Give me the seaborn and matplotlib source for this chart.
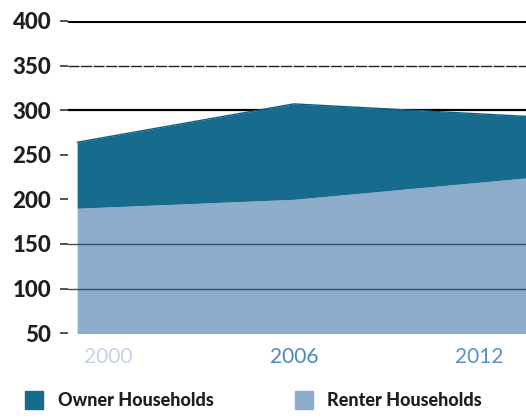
import matplotlib
matplotlib.use("Agg")
import matplotlib.pyplot as plt
import seaborn as sns
from matplotlib.lines import Line2D

# data (stacked: owners sit on top of renters)
years = [1999, 2006, 2013.5]
renter = [190, 200, 224]
owner = [74, 107, 69]
tick_years = [2000, 2006, 2012]
tick_labels = ["2000", "2006", "2012"]
y_ticks = [50, 100, 150, 200, 250, 300, 350, 400]
series_names = ["Owner Households", "Renter Households"]

owner_color = "#176b8c"
renter_color = "#8eaccb"

sns.set_theme(style="white")
plt.rcParams['font.family'] = ['Lato', 'DejaVu Sans']

fig = plt.figure(figsize=(5.26, 4.19), dpi=100)
ax = fig.add_axes([0.129, 0.205, 0.871, 0.745])

total = [r + o for r, o in zip(renter, owner)]
ax.fill_between(years, 0, renter, color=renter_color, lw=0, zorder=2)
ax.fill_between(years, renter, total, color=owner_color, lw=0, zorder=2)
sns.lineplot(x=years, y=total, color="#0f5f80", lw=1, ax=ax, zorder=3)

# grid lines as printed
ax.axhline(400, color="black", lw=2.2, zorder=1)
ax.axhline(350, color="#222222", lw=1, ls=(0, (8, 1)), zorder=1)
ax.axhline(300, color="black", lw=1.6, zorder=1)
ax.axhline(150, color="#2f4f66", lw=1, zorder=4)
ax.axhline(100, color="#2f4f66", lw=1, zorder=4)

ax.set_xlim(1998.7, 2013.5)
ax.set_ylim(50, 400)
ax.set_yticks(y_ticks)
ax.set_yticklabels([str(v) for v in y_ticks], fontsize=16, fontweight="black", color="#1e1e1e")
ax.set_xticks(tick_years)
ax.set_xticklabels(tick_labels, fontsize=15)
for lab, c in zip(ax.get_xticklabels(), ["#c3d2e8", "#4d86c4", "#5a8fc8"]):
    lab.set_color(c)
ax.tick_params(axis="y", length=6, width=1.2, color="#333333", pad=6, left=True)
ax.tick_params(axis="x", length=0, pad=10)
for s in ax.spines.values():
    s.set_visible(False)

handles = [Line2D([], [], marker="s", ls="", markersize=13, color=c)
           for c in [owner_color, renter_color]]
fig.legend(handles, series_names, loc="lower left", bbox_to_anchor=(0.0, -0.015),
           ncol=2, frameon=False, handletextpad=0.3, columnspacing=4.0,
           labelcolor="#1e1e1e",
           prop={"family": "Lato", "weight": "black", "size": 13})

fig.savefig("out.png", dpi=100)
